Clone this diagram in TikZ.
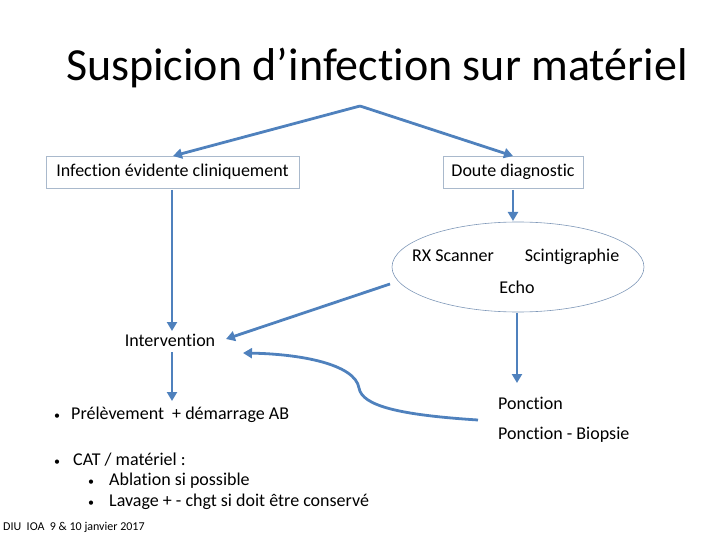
\documentclass[tikz,border=0pt]{standalone}
\usepackage{fontspec}
\setmainfont{Carlito}[Ligatures=CommonOff]
\usetikzlibrary{arrows.meta,shapes.geometric}
\definecolor{arrblue}{HTML}{4F81BD}
\definecolor{boxgray}{HTML}{A9B9CC}
\definecolor{ellline}{HTML}{7F98B8}
\newcommand{\bul}[1]{\makebox[#1][l]{\fontsize{12}{12}\selectfont\raisebox{0.5pt}{•}}}
\tikzset{
  arr/.style={draw=arrblue,line width=2.8pt,-{Triangle[length=9pt,width=10pt]}},
  boxnode/.style={draw=boxgray,line width=0.8pt,minimum height=32pt,inner sep=0pt,font=\fontsize{18}{21}\selectfont},
  txt/.style={font=\fontsize{18}{21}\selectfont,inner sep=0pt},
  small/.style={font=\fontsize{12}{14}\selectfont,inner sep=0pt}
}
\begin{document}
\begin{tikzpicture}[x=1pt,y=-1pt]
\useasboundingbox (0,0) rectangle (720,540);
\node[inner sep=0pt,font=\fontsize{46}{52}\selectfont] (title) at (377,68) {Suspicion d’infection sur matériel};
\coordinate (apex) at (360,106);
\node[boxnode,minimum width=253pt] (inf) at (172.5,172) {Infection évidente cliniquement};
\node[boxnode,minimum width=140pt] (dou) at (513,172) {Doute diagnostic};
\draw[arr] (apex) -- (173,156);
\draw[arr] (apex) -- (513,156);
\node[draw=ellline,line width=0.6pt,ellipse,minimum width=252pt,minimum height=90pt] (ell) at (518,267) {};
\node[txt] (rx) at (453,256) {RX Scanner};
\node[txt] (sci) at (572,257) {Scintigraphie};
\node[txt] (echo) at (517,287) {Echo};
\node[txt] (interv) at (170,340) {Intervention};
\node[txt,anchor=west] (prel) at (54,415) {\bul{17pt}Prélèvement \ + démarrage AB};
\node[txt,anchor=west] (cat) at (54,460) {\bul{19pt}CAT / matériel :};
\node[txt,anchor=west] (abl) at (88,481) {\bul{21pt}Ablation si possible};
\node[txt,anchor=west] (lav) at (88,502) {\bul{21pt}Lavage + - chgt si doit être conservé};
\node[txt,anchor=west] (pon) at (498,403) {Ponction};
\node[txt,anchor=west] (bio) at (498,435) {Ponction - Biopsie};
\node[small,anchor=west] (foot) at (3,527) {DIU \ IOA \ 9 \& 10 janvier 2017};
\draw[arr] (172,190) -- (172,331);
\draw[arr] (172,352) -- (172,401);
\draw[arr] (513,190) -- (513,221);
\draw[arr] (517,313) -- (517,383);
\coordinate (ellout) at (390,284);
\draw[arr] (ellout) -- (226,339);
\coordinate (cstart) at (478,420);
\draw[arr] (cstart) .. controls (400,415) and (362,406) .. (359,388) .. controls (355,364) and (300,354) .. (243,353);
\end{tikzpicture}
\end{document}
